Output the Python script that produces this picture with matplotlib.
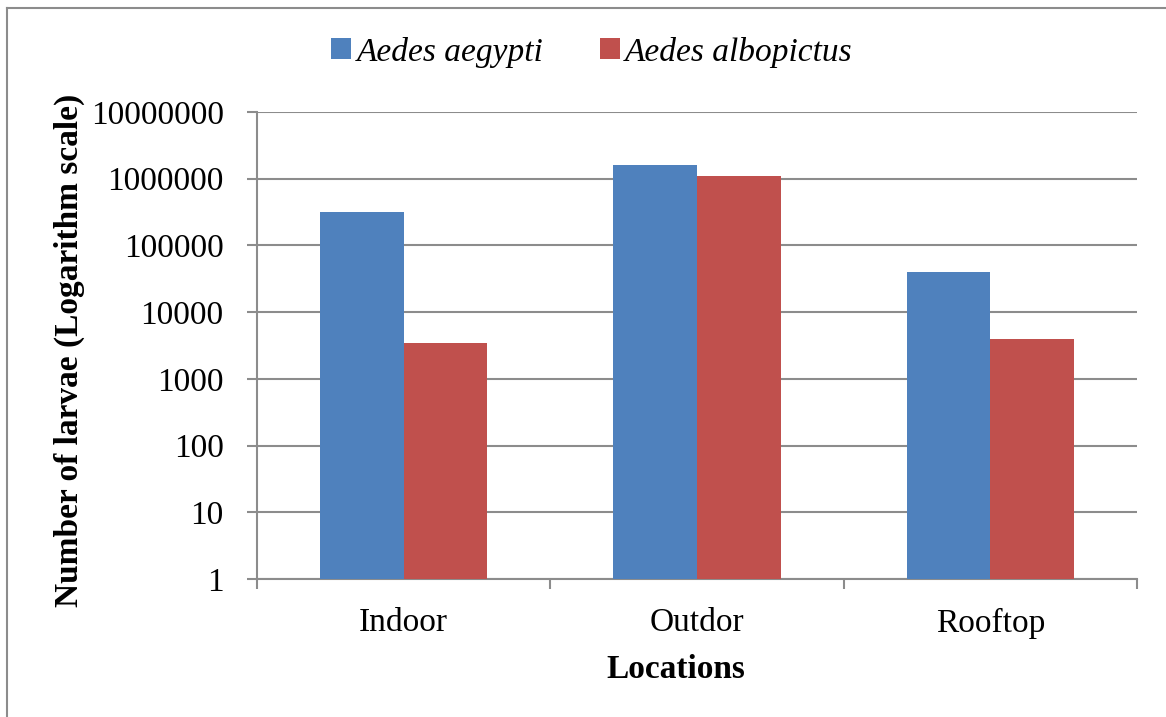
import matplotlib
matplotlib.use("Agg")
import matplotlib.pyplot as plt
from matplotlib.lines import Line2D
import numpy as np

categories = ["Indoor", "Outdor", "Rooftop"]
aegypti = [320000, 1580000, 39400]
albopictus = [3430, 1110000, 3980]
series_names = ["Aedes aegypti", "Aedes albopictus"]
yticks = [1, 10, 100, 1000, 10000, 100000, 1000000, 10000000]
ytick_labels = ["1", "10", "100", "1000", "10000", "100000", "1000000", "10000000"]

plt.rcParams['font.family'] = ['Liberation Serif', 'DejaVu Serif']

fig = plt.figure(figsize=(11.66, 7.17), dpi=100)
W, H = 1166, 717
ax = fig.add_axes([257 / W, 1 - 579 / H, (1137 - 257) / W, (579 - 112) / H])

x = np.arange(len(categories))
bw = 0.285
blue = "#4F81BD"
red = "#C0504D"
b1 = ax.bar(x - bw / 2, aegypti, bw, color=blue, label=series_names[0], zorder=3)
b2 = ax.bar(x + bw / 2, albopictus, bw, color=red, label=series_names[1], zorder=3)

ax.set_yscale("log")
ax.set_ylim(1, 10000000)
ax.set_xlim(-0.5, 2.5)
ax.set_yticks(yticks)
ax.set_yticklabels(ytick_labels)
ax.yaxis.set_minor_locator(matplotlib.ticker.NullLocator())
ax.grid(axis="y", color="#8C8C8C", linewidth=1.5, zorder=0)

ax.set_xticks(x)
ax.set_xticklabels(categories)
ax.set_xticks([-0.5, 0.5, 1.5, 2.5], minor=True)
ax.tick_params(axis="x", which="major", length=0, pad=20.5, labelsize=24)
ax.tick_params(axis="x", which="minor", length=7, width=1.5, color="#8C8C8C")
ax.tick_params(axis="y", which="major", length=7, width=1.5, color="#8C8C8C", pad=17, labelsize=24)

for s in ["top", "right"]:
    ax.spines[s].set_visible(False)
for s in ["left", "bottom"]:
    ax.spines[s].set_color("#8C8C8C")
    ax.spines[s].set_linewidth(1.5)

ax.set_xlabel("Locations", fontsize=24, fontweight="bold")
ax.xaxis.set_label_coords((676 - 257) / 880, -0.16)
ax.set_ylabel("Number of larvae (Logarithm scale)", fontsize=24, fontweight="bold")
ax.yaxis.set_label_coords(-0.195, 0.49)

leg = fig.legend(handles=[b1, b2], loc="center", bbox_to_anchor=(592 / W, 1 - 52 / H),
                 ncol=2, frameon=False, prop={"size": 24, "style": "italic"},
                 handlelength=0.6, handleheight=0.6, handletextpad=0.15, columnspacing=1.7)

# outer chart border (only top and left edges visible)
fig.lines.append(Line2D([7 / W, 7 / W], [0, 1 - 8 / H], transform=fig.transFigure,
                        color="#8C8C8C", linewidth=1.5))
fig.lines.append(Line2D([7 / W, 1], [1 - 8 / H, 1 - 8 / H], transform=fig.transFigure,
                        color="#8C8C8C", linewidth=1.5))

fig.savefig("out.png", dpi=100)
